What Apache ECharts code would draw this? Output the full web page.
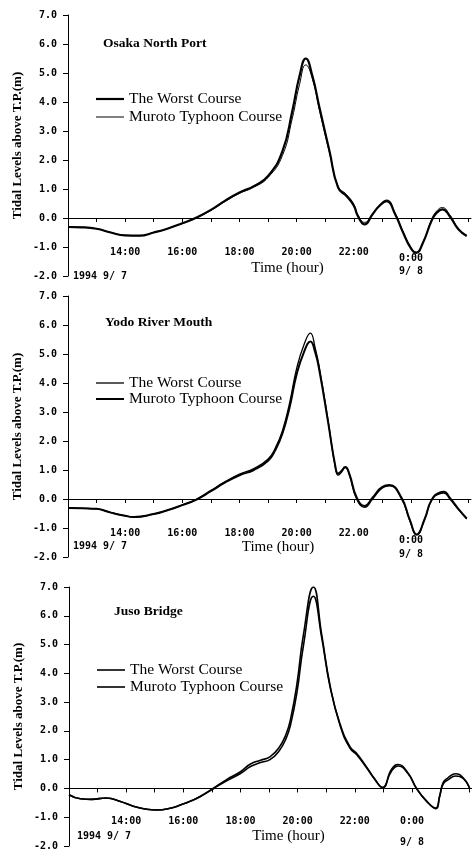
<!DOCTYPE html>
<html>
<head>
<meta charset="utf-8">
<title>Tidal Levels above T.P.</title>
<script src="https://cdn.jsdelivr.net/npm/echarts@6/dist/echarts.min.js"></script>
<style>
  html, body { margin: 0; padding: 0; background: #fff; }
  #chart { width: 472px; height: 853px; }
</style>
</head>
<body>
<div id="chart"></div>
<script>
// time in hours from 1994-09-07 0:00 (24 = 9/8 0:00), tidal level in m
const seriesNames = ["The Worst Course", "Muroto Typhoon Course"];
const stationNames = ["Osaka North Port", "Yodo River Mouth", "Juso Bridge"];
const tickHours = [14, 16, 18, 20, 22, 24];
const tickLabels = ["14:00", "16:00", "18:00", "20:00", "22:00", "0:00"];
const tickLabelsYodo = ["14:00", "16:00", "18:00", "20:00", "22.00", "0:00"];
const dayLabels = ["1994 9/ 7", "9/ 8"];

const hoursOsaka = [12.0, 12.5, 13.0, 13.5, 14.0, 14.5, 15.0, 15.5, 16.0, 16.5, 17.0, 17.5, 18.0, 18.5, 19.0, 19.5, 19.85, 20.1, 20.32, 20.55, 20.8, 21.15, 21.45, 21.75, 22.0, 22.15, 22.38, 22.65, 22.9, 23.15, 23.45, 23.7, 24.0, 24.18, 24.42, 24.72, 24.9, 25.1, 25.35, 25.65, 25.95];
const worstOsaka = [-0.31, -0.32, -0.37, -0.50, -0.60, -0.61, -0.50, -0.36, -0.18, 0.02, 0.28, 0.60, 0.88, 1.10, 1.45, 2.30, 3.70, 4.90, 5.50, 4.90, 3.80, 2.30, 1.05, 0.75, 0.42, 0.05, -0.22, 0.12, 0.42, 0.58, 0.12, -0.45, -1.05, -1.20, -0.85, -0.10, 0.18, 0.30, 0.07, -0.38, -0.62];
const murotoOsaka = [-0.31, -0.32, -0.37, -0.50, -0.60, -0.61, -0.50, -0.36, -0.19, 0.00, 0.26, 0.57, 0.85, 1.06, 1.40, 2.15, 3.45, 4.60, 5.28, 4.80, 3.70, 2.25, 1.10, 0.80, 0.48, 0.10, -0.15, 0.12, 0.45, 0.62, 0.16, -0.42, -1.02, -1.18, -0.85, -0.05, 0.24, 0.36, 0.12, -0.35, -0.60];

const hoursYodo = [12.0, 12.5, 13.0, 13.5, 14.0, 14.3, 15.0, 15.5, 16.0, 16.5, 17.0, 17.5, 18.0, 18.5, 19.0, 19.25, 19.5, 19.75, 20.0, 20.25, 20.48, 20.65, 20.8, 21.1, 21.35, 21.45, 21.55, 21.7, 21.85, 22.1, 22.38, 22.66, 23.0, 23.25, 23.67, 23.96, 24.2, 24.48, 24.72, 25.0, 25.15, 25.36, 25.65, 25.95];
const worstYodo = [-0.31, -0.32, -0.34, -0.47, -0.58, -0.62, -0.52, -0.38, -0.20, 0.00, 0.30, 0.60, 0.86, 1.05, 1.38, 1.75, 2.35, 3.30, 4.50, 5.30, 5.72, 5.20, 4.50, 2.70, 1.10, 0.82, 0.90, 1.08, 0.80, 0.00, -0.29, 0.00, 0.38, 0.45, 0.00, -0.75, -1.24, -0.69, -0.06, 0.18, 0.20, 0.00, -0.35, -0.69];
const murotoYodo = [-0.31, -0.32, -0.34, -0.47, -0.58, -0.62, -0.52, -0.38, -0.21, -0.02, 0.27, 0.57, 0.82, 1.00, 1.32, 1.68, 2.25, 3.15, 4.30, 5.05, 5.43, 5.05, 4.40, 2.65, 1.15, 0.88, 0.95, 1.10, 0.85, 0.05, -0.24, 0.05, 0.42, 0.48, 0.04, -0.72, -1.22, -0.69, -0.03, 0.22, 0.25, 0.04, -0.33, -0.67];

const hoursJuso = [12.0, 12.4, 12.8, 13.3, 13.8, 14.25, 14.7, 15.07, 15.5, 15.94, 16.3, 16.6, 17.04, 17.5, 18.0, 18.35, 18.7, 19.03, 19.35, 19.6, 19.75, 19.97, 20.2, 20.55, 20.84, 21.13, 21.48, 21.83, 22.06, 22.41, 22.7, 22.97, 23.28, 23.51, 23.86, 24.16, 24.51, 24.83, 24.97, 25.09, 25.26, 25.53, 25.79, 26.02];
const worstJuso = [-0.22, -0.36, -0.38, -0.33, -0.45, -0.62, -0.72, -0.75, -0.70, -0.56, -0.42, -0.27, 0.00, 0.30, 0.58, 0.85, 0.98, 1.10, 1.42, 1.90, 2.40, 3.60, 5.33, 7.00, 5.35, 3.60, 2.20, 1.40, 1.18, 0.72, 0.31, 0.02, 0.66, 0.83, 0.54, 0.00, -0.44, -0.70, -0.27, 0.20, 0.37, 0.51, 0.37, 0.00];
const murotoJuso = [-0.22, -0.36, -0.38, -0.33, -0.45, -0.62, -0.72, -0.75, -0.70, -0.56, -0.42, -0.28, -0.02, 0.26, 0.52, 0.76, 0.90, 1.00, 1.30, 1.75, 2.20, 3.30, 4.95, 6.68, 5.25, 3.55, 2.25, 1.45, 1.22, 0.75, 0.33, 0.04, 0.60, 0.78, 0.52, 0.00, -0.44, -0.68, -0.25, 0.15, 0.30, 0.43, 0.35, 0.00];

const serifFont = '"Liberation Serif", "DejaVu Serif", serif';
const monoFont = '"DejaVu Sans Mono", "Liberation Mono", monospace';

// layout of the three stacked panels (pixels); label offsets are measured from the grid bottom
const panels = [
    {
        title: stationNames[0], hours: hoursOsaka, worst: worstOsaka, muroto: murotoOsaka, labels: tickLabels,
        left: 68, top: 15, height: 261, titleLeft: 103, titleTop: 37,
        legendLeft: 96, legendTop: 91, legendGap: 2, worstWidth: 2.2, murotoWidth: 1,
        margin: -30, m0: 24, m1: 2, dt: 60, dtPad: 64, nameGap: -16, namePad: 36
    },
    {
        title: stationNames[1], hours: hoursYodo, worst: worstYodo, muroto: murotoYodo, labels: tickLabelsYodo,
        left: 68, top: 296, height: 261, titleLeft: 105, titleTop: 316,
        legendLeft: 96, legendTop: 375, legendGap: 0, worstWidth: 1.3, murotoWidth: 2,
        margin: -30, m0: 26, m1: 2, dt: 38, dtPad: 64, nameGap: -18, namePad: 17
    },
    {
        title: stationNames[2], hours: hoursJuso, worst: worstJuso, muroto: murotoJuso, labels: tickLabels,
        left: 69, top: 587, height: 259, titleLeft: 114, titleTop: 605,
        legendLeft: 97, legendTop: 662, legendGap: 1, worstWidth: 1.6, murotoWidth: 1.6,
        margin: -31, m0: 12, m1: 30, dt: 42, dtPad: 70, nameGap: -18, namePad: 36
    }
];

const labelFont = { fontFamily: monoFont, fontSize: 10, fontWeight: "bold", color: "#000" };

// legend key drawn as a plain bar of the line's thickness
const lineIcon = width => `path://M0,0H28V${width}H0Z`;

const makeXAxis = (p, i) => ({
    gridIndex: i,
    type: "value",
    min: 12,
    max: 26.1,
    interval: 1,
    axisLine: { onZero: true, lineStyle: { color: "#000", width: 1 } },
    axisTick: { show: true, length: 4, lineStyle: { color: "#000" } },
    splitLine: { show: false },
    axisLabel: {
        margin: p.margin,
        showMinLabel: true,
        showMaxLabel: false,
        ...labelFont,
        formatter: value => {
            const h = Math.round(value * 10) / 10;
            if (h === 12) return `{dt|${dayLabels[0]}}`;
            const idx = tickHours.indexOf(h);
            if (idx < 0) return "";
            if (h === 24) return `{m0|${p.labels[idx]}}\n{m1|${dayLabels[1]}}`;
            return `{n|${p.labels[idx]}}`;
        },
        rich: {
            n: { ...labelFont, lineHeight: 12 },
            m0: { ...labelFont, lineHeight: p.m0 },
            m1: { ...labelFont, lineHeight: p.m1 },
            dt: { ...labelFont, lineHeight: p.dt, padding: [0, 0, 0, p.dtPad] }
        }
    },
    name: "Time (hour)",
    nameLocation: "middle",
    nameGap: p.nameGap,
    nameMoveOverlap: false,
    nameTextStyle: {
        fontFamily: serifFont,
        fontSize: 15,
        color: "#000",
        lineHeight: 16,
        padding: [0, 0, 0, p.namePad]
    }
});

const makeYAxis = (p, i) => ({
    gridIndex: i,
    type: "value",
    min: -2,
    max: 7,
    interval: 1,
    axisLine: { show: true, onZero: false, lineStyle: { color: "#000", width: 1 } },
    axisTick: { show: true, length: 5, lineStyle: { color: "#000" } },
    splitLine: { show: false },
    axisLabel: { margin: 11, ...labelFont, formatter: v => v.toFixed(1) },
    name: "Tidal Levels above T.P.(m)",
    nameLocation: "middle",
    nameGap: 44,
    nameMoveOverlap: false,
    nameTextStyle: { fontFamily: serifFont, fontSize: 13, fontWeight: "bold", color: "#000" }
});

const makeSeries = (p, i) => [
    [seriesNames[0], p.worst, p.worstWidth],
    [seriesNames[1], p.muroto, p.murotoWidth]
].map(([name, values, width]) => ({
    name,
    type: "line",
    xAxisIndex: i,
    yAxisIndex: i,
    data: p.hours.map((h, k) => [h, values[k]]),
    smooth: 0.5,
    symbol: "none",
    showSymbol: false,
    silent: true,
    lineStyle: { color: "#000", width },
    itemStyle: { color: "#000" },
    z: 3
}));

const option = {
    animation: false,
    backgroundColor: "#fff",
    title: panels.map(p => ({
        text: p.title,
        left: p.titleLeft,
        top: p.titleTop,
        padding: 0,
        textStyle: { fontFamily: serifFont, fontSize: 13.5, fontWeight: "bold", color: "#000", lineHeight: 14 }
    })),
    legend: panels.map(p => ({
        orient: "vertical",
        left: p.legendLeft,
        top: p.legendTop,
        padding: 0,
        itemWidth: 28,
        itemHeight: 10,
        itemGap: p.legendGap,
        selectedMode: false,
        textStyle: { fontFamily: serifFont, fontSize: 15.5, color: "#000", lineHeight: 16 },
        data: [
            { name: seriesNames[0], icon: lineIcon(p.worstWidth), itemStyle: { color: "#000", borderWidth: 0 } },
            { name: seriesNames[1], icon: lineIcon(p.murotoWidth), itemStyle: { color: "#000", borderWidth: 0 } }
        ]
    })),
    grid: panels.map(p => ({
        left: p.left,
        top: p.top,
        width: 403,
        height: p.height,
        containLabel: false,
        outerBoundsMode: "none"
    })),
    xAxis: panels.map(makeXAxis),
    yAxis: panels.map(makeYAxis),
    series: panels.flatMap(makeSeries)
};

const chart = echarts.init(document.getElementById("chart"), null, { renderer: "canvas" });
chart.setOption(option);
</script>
</body>
</html>
